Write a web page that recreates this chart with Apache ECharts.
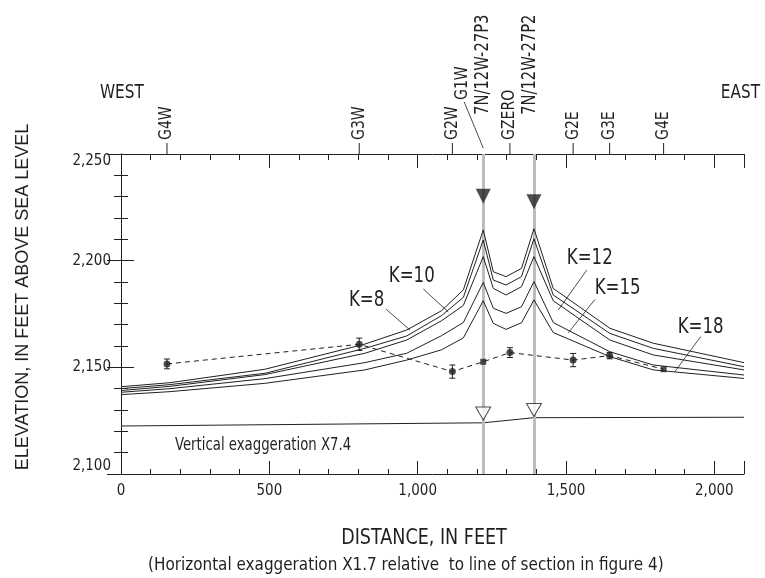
<!DOCTYPE html>
<html><head><meta charset="utf-8">
<script src="https://cdn.jsdelivr.net/npm/echarts@6/dist/echarts.min.js"></script>
<style>html,body{margin:0;padding:0;background:#fff}#c{width:765px;height:578px}</style>
</head><body><div id="c"></div>
<script>
// ---------------- data ----------------
const distNodes = [0, 165, 485, 822, 963, 1080, 1154, 1221, 1255, 1298, 1350, 1392, 1457, 1648, 1794, 2100];
const headK8  = [2140.9, 2142.8, 2149.1, 2160.9, 2167.5, 2176.5, 2186.3, 2214.4, 2194.8, 2192.5, 2196.4, 2215.0, 2187.0, 2168.3, 2161.3, 2152.2];
const headK10 = [2140.0, 2141.9, 2147.2, 2158.9, 2164.7, 2174.2, 2182.8, 2209.7, 2190.9, 2188.6, 2192.5, 2210.3, 2183.9, 2165.9, 2158.9, 2150.3];
const headK12 = [2139.1, 2141.1, 2146.6, 2156.6, 2162.8, 2171.8, 2179.0, 2201.9, 2187.0, 2183.9, 2187.8, 2201.9, 2181.2, 2162.8, 2155.8, 2148.8];
const headK15 = [2138.3, 2140.0, 2144.7, 2152.2, 2156.6, 2164.8, 2171.0, 2189.8, 2177.7, 2175.3, 2178.4, 2190.2, 2171.0, 2157.3, 2151.1, 2146.4];
const headK18 = [2137.2, 2138.6, 2142.5, 2148.8, 2153.4, 2158.2, 2163.8, 2181.2, 2170.6, 2167.8, 2170.9, 2181.6, 2166.3, 2155.0, 2148.8, 2144.8];
const kNames = ['K=8', 'K=10', 'K=12', 'K=15', 'K=18'];

const obsDist = [155, 803, 1117, 1221, 1311, 1524, 1647, 1829];
const obsElev = [2151.6, 2160.8, 2148.0, 2152.6, 2156.9, 2153.4, 2155.5, 2149.1];
const obsErr  = [2.3, 2.9, 3.1, 0, 2.3, 3.1, 1.5, 0];

const baseDist = [0, 1221, 1392, 2100];
const baseElev = [2122.5, 2124.0, 2126.4, 2126.6];

const wellDist = [1221, 1392];
const wellNames = ['7N/12W-27P3', '7N/12W-27P2'];
const wellWaterLevel = [2230.2, 2227.6];
const wellLowMark = [2128.4, 2130.0];

const stationDist = [155, 803, 1117, 1221, 1311, 1524, 1647, 1829];
const stationNames = ['G4W', 'G3W', 'G2W', 'G1W', 'GZERO', 'G2E', 'G3E', 'G4E'];

const xTicks = [0, 500, 1000, 1500, 2000];
const yTicks = [2100, 2150, 2200, 2250];
const xMin = 0, xMax = 2100, yMin = 2100, yMax = 2250;

// ---------------- styles ----------------
const INK = '#231f20';
const NARROW = "'Liberation Sans Narrow','Arial Narrow','DejaVu Sans Condensed',sans-serif";
const REG = "'Liberation Sans',Arial,sans-serif";
const fmt = v => Number(v).toLocaleString('en-US');

const chart = echarts.init(document.getElementById('c'), null, {renderer: 'canvas'});
const zip = (a, b) => a.map((v, i) => [v, b[i]]);
const lineStyle = {color: INK, width: 1};

function xAx(pos, interval, len, labels, showLine) {
  return {
    type: 'value', min: xMin, max: xMax, interval: interval, position: pos,
    axisLine: {show: showLine, lineStyle: lineStyle},
    axisTick: {show: true, inside: true, length: len, lineStyle: lineStyle},
    axisLabel: labels ? {show: true, margin: 10, color: INK, fontFamily: NARROW, fontSize: 15,
      formatter: v => (xTicks.indexOf(v) >= 0 ? fmt(v) : '')} : {show: false},
    splitLine: {show: false}
  };
}
function yAx(pos, interval, len, labels, showLine) {
  return {
    type: 'value', min: yMin, max: yMax, interval: interval, position: pos,
    axisLine: {show: showLine, lineStyle: lineStyle},
    axisTick: {show: true, inside: true, length: len, lineStyle: lineStyle},
    axisLabel: labels ? {show: true, margin: 10, color: INK, fontFamily: NARROW, fontSize: 15,
      verticalAlignMinLabel: 'bottom', verticalAlignMaxLabel: 'top',
      formatter: v => (yTicks.indexOf(v) >= 0 ? fmt(v) : '')} : {show: false},
    splitLine: {show: false}
  };
}

const kSeries = [headK8, headK10, headK12, headK15, headK18].map((h, i) => ({
  name: kNames[i], type: 'line', data: zip(distNodes, h), symbol: 'none',
  lineStyle: {color: INK, width: 1}, z: 5, silent: true
}));

const option = {
  animation: false,
  backgroundColor: '#fff',
  grid: {left: 121, top: 154, width: 623, height: 320, containLabel: false},
  xAxis: [xAx('bottom', 500, 13, true, true), xAx('bottom', 100, 5, false, false),
          xAx('top', 500, 14, false, true), xAx('top', 100, 6, false, false)],
  yAxis: [yAx('left', 50, 13, true, true), yAx('left', 10, 7, false, false),
          yAx('right', 50, 14, false, true), yAx('right', 10, 7, false, false)],
  series: [
    { // well lines
      type: 'line', data: [], symbol: 'none', z: 1,
      markLine: {silent: true, symbol: 'none', label: {show: false},
        lineStyle: {color: '#bdbdbd', width: 3, type: 'solid'},
        data: wellDist.map(d => ({xAxis: d}))}
    },
    { // base line
      type: 'line', data: zip(baseDist, baseElev), symbol: 'none',
      lineStyle: {color: INK, width: 1}, z: 4, silent: true
    },
    ...kSeries,
    { // observed dashed
      type: 'line', data: zip(obsDist, obsElev), symbol: 'none',
      lineStyle: {color: INK, width: 1, type: [5, 4]}, z: 6, silent: true
    },
    { // observed points
      type: 'scatter', data: zip(obsDist, obsElev).map((p, i) => ({
        value: p, symbol: obsErr[i] === 0 ? 'rect' : 'circle', symbolSize: obsErr[i] === 0 ? 6 : 7})),
      itemStyle: {color: INK}, z: 8, silent: true
    },
    { // error bars
      type: 'custom', z: 7, silent: true,
      data: obsDist.map((d, i) => [d, obsElev[i], obsErr[i]]),
      renderItem: function (params, api) {
        const d = api.value(0), e = api.value(1), err = api.value(2);
        if (!err) return null;
        const t = api.coord([d, e + err]), b = api.coord([d, e - err]);
        const w = 3;
        return {type: 'group', children: [
          {type: 'line', shape: {x1: t[0], y1: t[1], x2: b[0], y2: b[1]}, style: {stroke: INK, lineWidth: 1}},
          {type: 'line', shape: {x1: t[0] - w, y1: t[1], x2: t[0] + w, y2: t[1]}, style: {stroke: INK, lineWidth: 1}},
          {type: 'line', shape: {x1: b[0] - w, y1: b[1], x2: b[0] + w, y2: b[1]}, style: {stroke: INK, lineWidth: 1}}
        ]};
      }
    },
    { // water level triangles (filled)
      type: 'scatter', data: zip(wellDist, wellWaterLevel), symbol: 'triangle', symbolRotate: 180,
      symbolSize: [15, 15], itemStyle: {color: INK}, z: 9, silent: true
    },
    { // hollow triangles
      type: 'scatter', data: zip(wellDist, wellLowMark), symbol: 'triangle', symbolRotate: 180,
      symbolSize: [15, 13], itemStyle: {color: '#fff', borderColor: INK, borderWidth: 1}, z: 9, silent: true
    },
    { // station ticks & labels above the top axis
      type: 'custom', clip: false, z: 10, silent: true,
      data: stationDist.map((d, i) => [d, i]),
      renderItem: function (params, api) {
        const x = api.coord([api.value(0), yMax])[0];
        const top = params.coordSys.y;
        const name = stationNames[api.value(1)];
        const font = '17px ' + NARROW;
        if (name === 'G1W') {
          const lx = x - 21, ly = top - 54;
          return {type: 'group', children: [
            {type: 'line', shape: {x1: lx + 2, y1: ly + 2, x2: x, y2: top - 6}, style: {stroke: INK, lineWidth: 0.8}},
            {type: 'text', x: lx, y: ly, rotation: Math.PI / 2, scaleX: 0.92,
              style: {text: name, textAlign: 'left', textVerticalAlign: 'middle', font: font, fill: INK}}
          ]};
        }
        return {type: 'group', children: [
          {type: 'line', shape: {x1: x, y1: top, x2: x, y2: top - 11}, style: {stroke: INK, lineWidth: 1}},
          {type: 'text', x: x, y: top - 14, rotation: Math.PI / 2, scaleX: 0.92,
            style: {text: name, textAlign: 'left', textVerticalAlign: 'middle', font: font, fill: INK}}
        ]};
      }
    }
  ]
};
chart.setOption(option);

// ---------------- annotations placed through the chart's scales ----------------
const P = (d, e) => chart.convertToPixel({seriesIndex: 1}, [d, e]);
const kLabelAt = [[828, 2181.6], [980, 2192.5], [1580, 2201.1], [1674, 2187.2], [1954, 2169]];
const kLeader = [
  [[893, 2177.3], [974, 2167.5]],
  [[1019, 2186.7], [1103, 2176.0]],
  [[1570, 2195.6], [1474, 2176.9]],
  [[1598, 2181.9], [1508, 2166.2]],
  [[1954, 2164.4], [1867, 2148.0]]
];
const graphics = [];
kNames.forEach((n, i) => {
  const p = P(kLabelAt[i][0], kLabelAt[i][1]);
  graphics.push({type: 'text', x: p[0], y: p[1], scaleX: 0.84, silent: true,
    style: {text: n, textAlign: 'center', textVerticalAlign: 'middle', font: '22px ' + NARROW, fill: INK}});
  const a = P(kLeader[i][0][0], kLeader[i][0][1]), b = P(kLeader[i][1][0], kLeader[i][1][1]);
  graphics.push({type: 'line', silent: true, shape: {x1: a[0], y1: a[1], x2: b[0], y2: b[1]},
    style: {stroke: INK, lineWidth: 0.8}});
});
// well labels
const topPx = P(0, yMax)[1];
wellNames.forEach((n, i) => {
  const x = P(wellDist[i], yMax)[0] - (i === 1 ? 4 : 0);
  graphics.push({type: 'text', x: x, y: topPx - 39, rotation: Math.PI / 2, scaleX: 0.82, silent: true,
    style: {text: n, textAlign: 'left', textVerticalAlign: 'middle', font: '20px ' + NARROW, fill: INK}});
});
// vertical exaggeration note
const ve = P(182, 2113.6);
graphics.push({type: 'text', x: ve[0], y: ve[1], scaleX: 0.82, silent: true,
  style: {text: 'Vertical exaggeration X7.4', textAlign: 'left', textVerticalAlign: 'middle', font: '18px ' + NARROW, fill: INK}});
// WEST / EAST
graphics.push({type: 'text', x: 100, y: 93, scaleX: 0.85, silent: true,
  style: {text: 'WEST', textAlign: 'left', textVerticalAlign: 'middle', font: '20px ' + NARROW, fill: INK}});
graphics.push({type: 'text', x: 760, y: 93, scaleX: 0.85, silent: true,
  style: {text: 'EAST', textAlign: 'right', textVerticalAlign: 'middle', font: '20px ' + NARROW, fill: INK}});
// axis titles
graphics.push({type: 'text', x: 23, y: 297, rotation: Math.PI / 2, silent: true,
  style: {text: 'ELEVATION, IN FEET ABOVE SEA LEVEL', textAlign: 'center', textVerticalAlign: 'middle', font: '18px ' + REG, fill: INK}});
graphics.push({type: 'text', x: 424, y: 539, scaleX: 0.93, silent: true,
  style: {text: 'DISTANCE, IN FEET', textAlign: 'center', textVerticalAlign: 'middle', font: '21px ' + NARROW, fill: INK}});
graphics.push({type: 'text', x: 148, y: 565, scaleX: 0.94, silent: true,
  style: {text: '(Horizontal exaggeration X1.7 relative  to line of section in figure 4)', textAlign: 'left', textVerticalAlign: 'middle', font: '18px ' + NARROW, fill: INK}});
chart.setOption({graphic: graphics});
</script>
</body></html>
